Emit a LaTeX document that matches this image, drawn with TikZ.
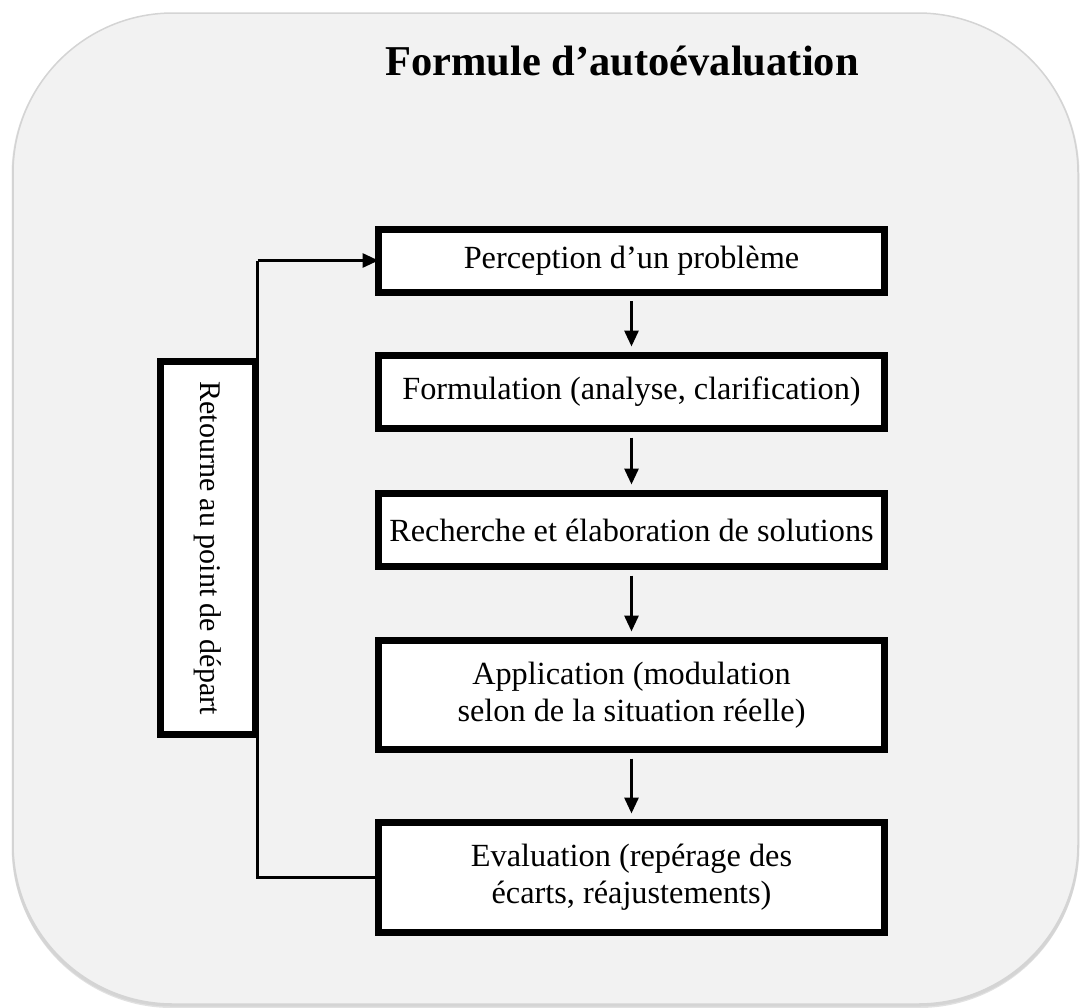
\documentclass[tikz,border=0pt]{standalone}
\usepackage{fontspec}
\setmainfont{Liberation Serif}
\usetikzlibrary{arrows.meta,calc}

\definecolor{panelfill}{HTML}{F2F2F2}
\definecolor{panelline}{HTML}{D4D4D4}
\definecolor{panelshadow}{HTML}{BDBDBD}

\tikzset{
  stepbox/.style={draw=black, line width=7pt, fill=white, outer sep=0pt,
    minimum width=506pt, align=center,
    font=\fontsize{32.3}{37}\selectfont},
  sidebox/.style={draw=black, line width=7pt, fill=white, outer sep=0pt,
    rotate=-90, minimum width=373pt, minimum height=95pt,
    font=\fontsize{30}{36}\selectfont},
  flow/.style={line width=3pt, -{Triangle[length=16pt,width=14pt]},
    shorten <=9pt, shorten >=9pt},
  back/.style={line width=3pt},
}

\begin{document}
\begin{tikzpicture}[x=1pt,y=-1pt]
  \useasboundingbox (0,0) rectangle (1081,1007);

  % panel with a soft shadow
  \fill[panelshadow, opacity=0.45, rounded corners=160pt]
    (12,15) rectangle (1079,1008);
  \fill[panelshadow, opacity=0.35, rounded corners=160pt]
    (11.5,14) rectangle (1079.5,1006.5);
  \draw[panelline, fill=panelfill, line width=1.5pt, rounded corners=160pt]
    (13,13) rectangle (1078,1004);

  % title
  \node[font=\bfseries\fontsize{42.5}{50}\selectfont, anchor=base] (title)
    at (622,75) {Formule d’autoévaluation};

  % process steps (outer heights: 70, 80, 80, 116, 117)
  \node[stepbox, minimum height=63pt]  (b1) at (631.5,260.5) {Perception d’un problème};
  \node[stepbox, minimum height=73pt]  (b2) at (631.5,392)   {Formulation (analyse, clarification)};
  \node[stepbox, minimum height=73pt]  (b3) at (631.5,530)   {Recherche et élaboration de solutions};
  \node[stepbox, minimum height=109pt] (b4) at (631.5,695)   {Application (modulation\\selon de la situation réelle)};
  \node[stepbox, minimum height=110pt] (b5) at (631.5,877.5) {Evaluation (repérage des\\écarts, réajustements)};

  % side label
  \node[sidebox] (ret) at (208,548) {Retourne au point de départ};

  % downward flow
  \draw[flow] (b1.south) -- (b2.north);
  \draw[flow] (b2.south) -- (b3.north);
  \draw[flow] (b3.south) -- (b4.north);
  \draw[flow] (b4.south) -- (b5.north);

  % loop back to the first step along the side label
  \coordinate (turnlow)  at ([xshift=2pt]ret.north |- b5.west);
  \coordinate (turnhigh) at ([xshift=2pt]ret.north |- b1.west);
  \draw[back] (b5.west) -- (turnlow) -- (turnhigh);
  \draw[back, -{Triangle[length=16pt,width=14pt]}] (turnhigh) -- (b1.west);
\end{tikzpicture}
\end{document}
